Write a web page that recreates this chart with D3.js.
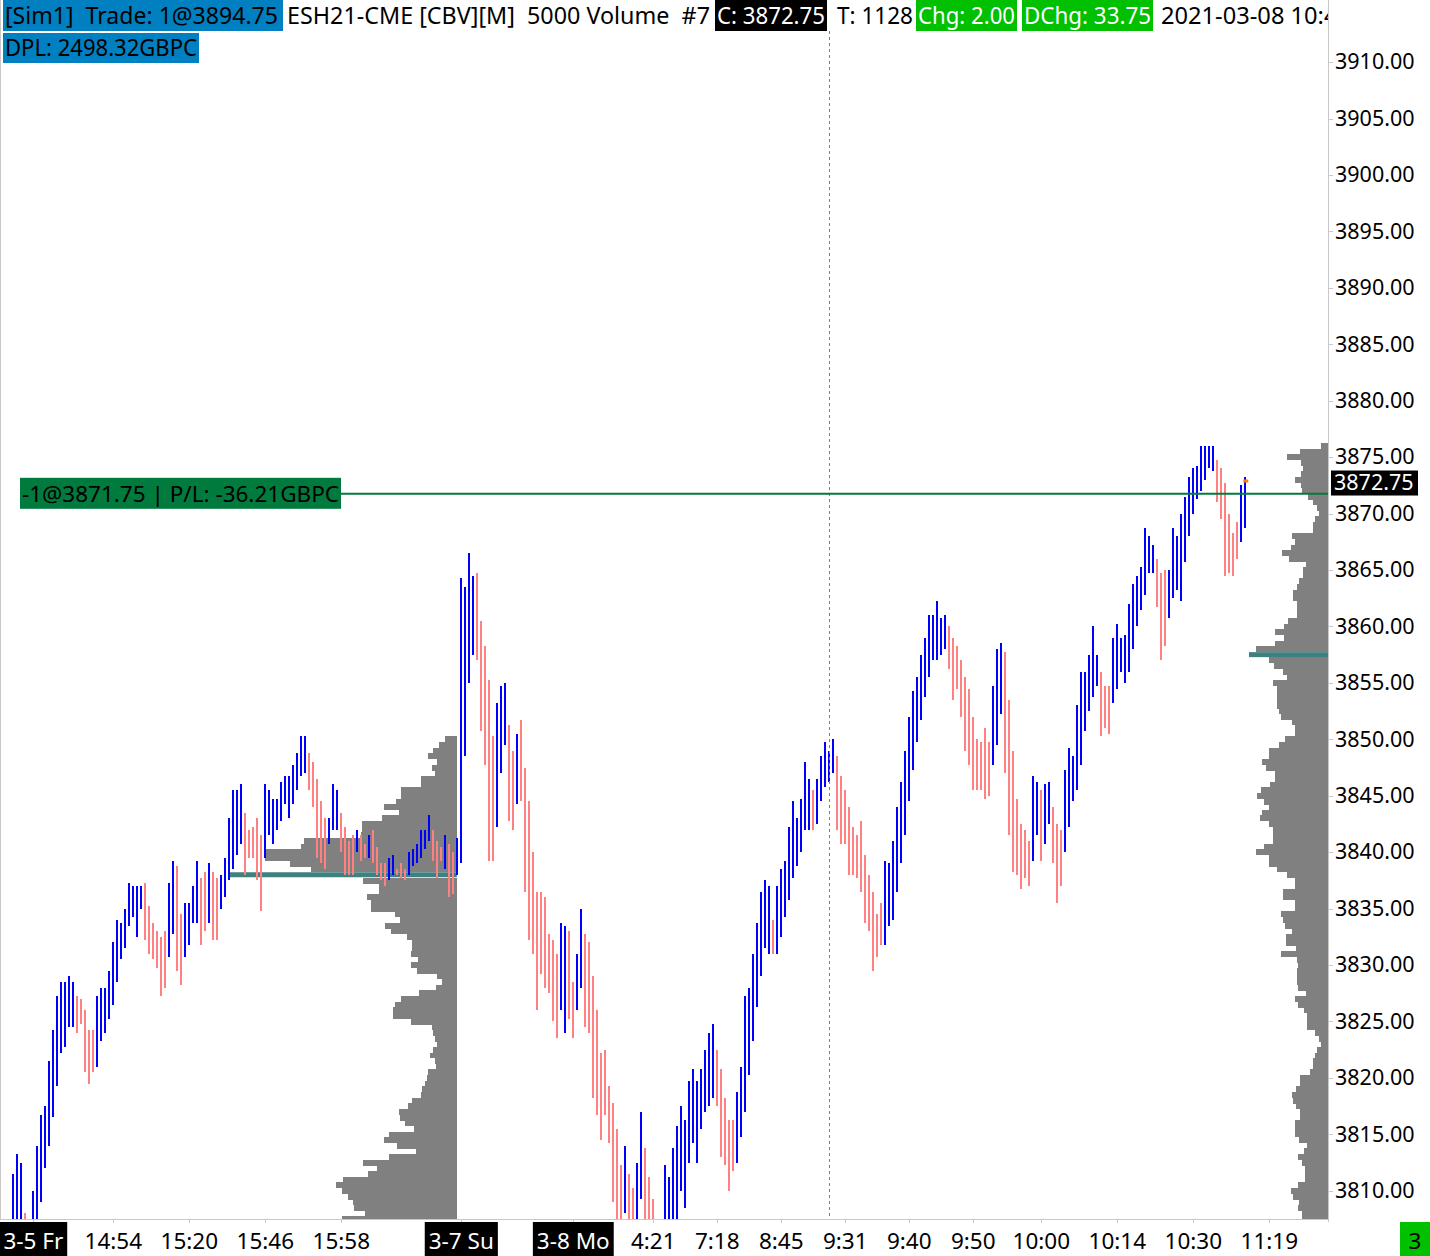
<!DOCTYPE html>
<html><head><meta charset="utf-8">
<script src="https://cdn.jsdelivr.net/npm/d3@7"></script>
<style>
body{margin:0;background:#fff;}
svg{display:block;font-family:"Noto Sans","Open Sans",sans-serif;}
text{white-space:pre;}
</style>
</head><body>
<svg id="c" width="1430" height="1256"></svg>
<script>
// ---------- DATA ----------
// bars: [high, low, up(1)/down(0)] one per 5000-volume bar, left to right
const bars = [
[3811.5,3806,1],[3813.25,3806,1],[3812.5,3806,1],[3808,3805,0],[3807,3804,0],[3810,3805,1],[3814,3806.5,1],[3816.75,3809,1],[3817.5,3812,1],[3821.5,3814,1],
[3824.25,3816.5,1],[3827.25,3819.25,1],[3828.5,3822.25,1],[3828.5,3822.75,1],[3829,3824.5,1],[3828.5,3824.5,1],[3827.25,3824,0],[3827,3824.75,0],[3826,3820.5,0],[3824.25,3819.5,0],
[3824.25,3820.5,0],[3827.25,3821,1],[3828,3823.25,1],[3828,3824,1],[3829.5,3825.25,1],[3832,3826.5,1],[3834,3828.5,1],[3833.75,3830.5,1],[3835,3831.5,1],[3837.25,3833.5,1],
[3837,3834.25,1],[3837,3832.5,1],[3837,3835,1],[3837.25,3832.25,0],[3835.25,3831,0],[3833.75,3830.5,0],[3833,3829.75,0],[3832.5,3827.25,0],[3833,3828,0],[3837.25,3830.75,1],
[3839.25,3832.75,1],[3838.75,3829.5,0],[3834.5,3828.25,0],[3835.5,3830.75,1],[3835.5,3831.75,1],[3837,3833.75,1],[3839.25,3833.75,1],[3837.75,3831.75,0],[3838.25,3833,0],[3839,3833.75,1],
[3838.25,3832.25,0],[3837.75,3832.25,0],[3838,3835,1],[3839.5,3836,1],[3843,3837.5,1],[3845.5,3838.5,1],[3845.5,3839.75,1],[3846,3840.75,1],[3843.5,3838,0],[3842,3839.5,0],
[3842.25,3839.5,0],[3843,3837.5,0],[3841.5,3834.75,0],[3846,3839.5,1],[3845.5,3841.5,1],[3844.75,3840.75,1],[3844.75,3842,1],[3846.25,3842.75,1],[3846.75,3844.25,1],[3846.75,3843,1],
[3847.75,3844.25,1],[3848.75,3845.5,1],[3850.25,3846.75,1],[3850.25,3847,1],[3848.75,3845.5,0],[3848,3844,0],[3846.5,3839.5,0],[3844.5,3839,0],[3843,3838.5,0],[3843,3840.75,1],
[3846,3842,1],[3845.5,3842,1],[3843.5,3840,0],[3842.25,3838,0],[3841,3838,0],[3841.5,3838,0],[3842,3840,1],[3841.5,3839.25,0],[3840.75,3839.5,0],[3841.5,3839.5,1],
[3842,3839,0],[3840.5,3838,0],[3839,3837.5,0],[3839,3837,0],[3839.5,3837.5,1],[3839.75,3838,1],[3838.5,3838,0],[3839,3837.75,0],[3838.5,3837.5,0],[3840,3838,1],
[3840.25,3838.75,1],[3840.75,3839,1],[3842,3839.5,1],[3842,3840.25,1],[3843.25,3841,1],[3842,3839.25,0],[3841,3837.75,0],[3840.5,3839.25,0],[3841.5,3838.5,1],[3840.75,3836,0],
[3840,3836.25,0],[3841.25,3838,1],[3864.25,3839,1],[3863.5,3848.5,1],[3866.5,3855,1],[3864.5,3857.5,1],[3864.75,3857,0],[3860.5,3850.75,0],[3858.25,3847.75,0],[3855.25,3839.25,0],
[3850.25,3839.25,0],[3853.25,3842.25,1],[3854.75,3847,1],[3855,3849.5,1],[3851.25,3842.75,0],[3849,3842,0],[3850.5,3844.25,1],[3851.75,3844.5,0],[3847.5,3836.5,0],[3844.5,3832.25,0],
[3840,3831,0],[3836.5,3826,0],[3836.5,3829.25,0],[3836,3828,0],[3832.75,3827.5,0],[3832.25,3825,0],[3831,3823.5,0],[3833.75,3826,1],[3833.5,3824,1],[3833,3825.25,0],
[3828.5,3823.5,0],[3831,3826,1],[3835,3828,1],[3832.75,3824.5,0],[3832,3824,0],[3829,3818.25,0],[3826,3816.75,0],[3822.25,3814.5,0],[3822.5,3816.75,0],[3819.25,3814.25,0],
[3817.75,3809,0],[3815.5,3807,0],[3812.25,3806.5,0],[3814,3808,1],[3811.5,3806.5,0],[3810.25,3806,0],[3812.5,3806.5,1],[3817,3809.25,1],[3813.75,3806.5,0],[3811.25,3806,0],
[3809.25,3805.5,0],[3807,3804,0],[3807,3804,1],[3812.25,3806,1],[3811.25,3806,1],[3813.75,3806.5,1],[3815.75,3806.5,1],[3817.5,3810,1],[3816.25,3808.5,1],[3819.75,3812.5,1],
[3820.75,3814.25,1],[3819.75,3812.5,1],[3820.75,3815.5,1],[3822.5,3817,1],[3824,3817.5,1],[3824.75,3818.25,1],[3822.5,3817.5,0],[3820.75,3813,0],[3818.25,3812.25,0],[3816.25,3810,0],
[3816.25,3811.75,0],[3818.75,3812.5,1],[3821,3814.75,1],[3827.25,3817,1],[3828,3820.25,1],[3831,3823.25,1],[3833.75,3826.25,1],[3836.5,3829,1],[3837.5,3831.5,1],[3837,3831,1],
[3834,3831,0],[3837,3831,1],[3838.5,3832.5,1],[3839.25,3834.25,1],[3842.25,3835.75,1],[3844.5,3837.75,1],[3843,3838.75,1],[3844.75,3840,1],[3848,3842,1],[3846.5,3842,1],
[3845.5,3842,0],[3846.5,3842.5,1],[3848.5,3844.5,1],[3849.75,3845.75,1],[3849,3846.25,1],[3850,3847,1],[3848.5,3842,0],[3846.75,3840.75,0],[3845.5,3840.75,0],[3844,3838,0],
[3842.25,3838,0],[3841.5,3837.75,0],[3842.75,3836.5,0],[3839.75,3833.75,0],[3838,3833,0],[3836.5,3829.5,0],[3834.5,3830.75,0],[3835.5,3831.75,0],[3839.25,3831.75,1],[3839,3833.5,1],
[3841,3834,1],[3844,3836.5,1],[3846.25,3839,1],[3849,3841.5,1],[3852,3844.5,1],[3854.25,3847.25,1],[3855.5,3849.75,1],[3857.5,3851.75,1],[3859,3853.75,1],[3861,3855.5,1],
[3861,3857,1],[3862.25,3857,1],[3860.75,3857.5,1],[3861,3858,1],[3860,3856.25,0],[3859,3853.5,0],[3858.25,3854.5,0],[3857,3852,0],[3855.5,3849,0],[3854.5,3847.75,0],
[3852,3845.5,0],[3850,3845.5,0],[3849.75,3845.5,0],[3851,3844.75,0],[3849.75,3845,0],[3854.75,3847.75,1],[3858,3849.5,1],[3858.5,3852.25,1],[3857.75,3847,0],[3853.5,3841.5,0],
[3849,3838.25,0],[3844.75,3838,0],[3842.5,3836.75,0],[3842,3837.75,0],[3841,3837,0],[3846.75,3839.25,1],[3846.25,3841.5,1],[3845.5,3839.25,0],[3846,3840.75,1],[3846.25,3842.5,1],
[3844,3839,0],[3842.5,3835.5,0],[3842,3837,0],[3847.25,3840,1],[3849.25,3842.25,1],[3848.5,3844.5,1],[3853,3845.5,1],[3856,3847.75,1],[3856,3850.75,1],[3857.5,3852.5,1],
[3860,3853.75,1],[3857.5,3854.75,1],[3856,3850.25,0],[3854.75,3851,0],[3854.75,3850.5,0],[3859,3853.25,1],[3860.25,3854.5,1],[3859,3856,1],[3859.25,3855,1],[3862,3856,1],
[3863.75,3858,1],[3864.5,3860,1],[3865.25,3861.5,1],[3868.75,3862.75,1],[3868,3864.75,1],[3867.25,3864.75,1],[3866,3861.75,0],[3864.75,3857,0],[3865,3858.25,0],[3865,3860.75,1],
[3868.75,3862.5,1],[3868,3863.25,1],[3870,3862.25,1],[3871.5,3865.75,1],[3873.25,3868,1],[3874,3870,1],[3874.25,3871.25,1],[3876,3872,1],[3876,3873,1],[3876,3874,1],
[3876,3873.75,1],[3874.75,3871,0],[3874,3869.5,0],[3872.75,3864.5,0],[3870,3864.75,0],[3868.25,3864.5,0],[3869.25,3866,0],[3872.5,3867.5,1],[3873.25,3868.75,1]
];

// Volume profile, Friday session (3-5): price rows every 0.5 from top price downward
const profileLeftTop = 3850.0;
const profileLeftVol = [12,18,24,29,20,25,22,36,36,56,56,61,73,58,75,95,95,96,153,156,192,192,167,146,227,94,78,78,90,86,86,62,57,72,66,50,45,45,46,39,46,40,20,15,21,38,56,62,64,64,46,25,24,22,20,24,27,22,21,29,30,32,35,36,45,49,58,57,52,43,68,73,60,41,68,94,80,89,114,121,115,109,104,103,92,115];
const profileLeftPOC = 3838.0;

// Volume profile, Monday session (3-8)
const profileRightTop = 3876.0;
const profileRightVol = [7,28,41,27,25,27,33,27,26,20,15,11,9,13,15,15,36,33,37,46,39,22,25,25,29,31,35,35,31,31,31,40,44,53,44,53,72,79,59,54,45,41,55,51,51,51,51,49,47,36,33,33,43,49,59,59,66,62,53,53,58,67,71,64,59,66,68,59,55,55,55,64,72,59,59,51,41,33,33,45,45,33,33,47,45,43,36,42,42,32,47,31,30,31,31,31,30,22,33,30,24,21,21,21,13,9,7,11,13,15,15,18,28,28,32,36,35,32,28,28,33,33,33,29,21,24,30,26,23,23,23,30,37,35,29,30,26,26];
const profileRightPOC = 3857.5;

const priceTicks = [3810,3815,3820,3825,3830,3835,3840,3845,3850,3855,3860,3865,3870,3875,3880,3885,3890,3895,3900,3905,3910];

const timeTickIndex = [5,25,44,63,82,112,140,160,176,192,208,224,240,257,276,295,314];
const timeTickLabel = ["3-5 Fr","14:54","15:20","15:46","15:58","3-7 Su","3-8 Mo","4:21","7:18","8:45","9:31","9:40","9:50","10:00","10:14","10:30","11:19"];
const timeTickIsDate = [1,0,0,0,0,1,1,0,0,0,0,0,0,0,0,0,0];

const lastPrice = 3872.75;
const tradePrice = 3871.75;
const cursorIndex = 204;
const sessionBreakIndex = 111;

const headerRow1 = [
  {t:"[Sim1]  Trade: 1@3894.75", x:3, bg:"#0080c0", fg:"#000", w:280, tl:273},
  {t:"ESH21-CME [CBV][M]  5000 Volume  #7", x:285, bg:null, fg:"#000", tl:423},
  {t:"C: 3872.75", x:715, bg:"#000", fg:"#fff", w:112, tl:108},
  {t:"T: 1128", x:829, bg:null, fg:"#000", tl:76, dx:6},
  {t:"Chg: 2.00", x:916, bg:"#00c000", fg:"#fff", w:101, tl:97},
  {t:"DChg: 33.75", x:1022, bg:"#00c000", fg:"#fff", w:131, tl:127},
  {t:"2021-03-08 10:42", x:1159, bg:null, fg:"#000", tl:190}
];
const headerRow2 = [{t:"DPL: 2498.32GBPC", x:3, bg:"#0080c0", fg:"#000", w:196, tl:192}];

// ---------- DRAW ----------
const PR = 1328, PB = 1219;
const x = d3.scaleLinear().domain([0, bars.length - 1]).range([13.3, 1245.3]);
const y = d3.scaleLinear().domain([3807.5, 3915.5]).range([PB, 0]);
const vol = d3.scaleLinear().domain([0, 100]).range([0, 100]);

const svg = d3.select("#c");
svg.append("rect").attr("width",1430).attr("height",1256).attr("fill","#fff");
const defs = svg.append("defs");
defs.append("clipPath").attr("id","pc")
  .append("rect").attr("x",0).attr("y",0).attr("width",PR).attr("height",PB);
defs.append("clipPath").attr("id","hc")
  .append("rect").attr("x",0).attr("y",0).attr("width",PR).attr("height",70);
const g = svg.append("g").attr("clip-path","url(#pc)");

function profile(top, vols, poc, rightEdge){
  const rows = vols.map((v,k)=>({p: top - 0.5*k, v}));
  g.append("g").selectAll("rect").data(rows.filter(d=>d.p!==poc)).join("rect")
    .attr("x", d=>rightEdge - vol(d.v))
    .attr("y", d=>y(d.p+0.25))
    .attr("width", d=>vol(d.v))
    .attr("height", d=>y(d.p-0.25)-y(d.p+0.25)+0.3)
    .attr("fill","#808080").attr("shape-rendering","crispEdges");
  const pr = rows.find(d=>d.p===poc);
  g.append("rect").attr("x", rightEdge - vol(pr.v)).attr("y", y(poc)-2.5)
    .attr("width", vol(pr.v)).attr("height",5).attr("fill","#408080");
}
profile(profileLeftTop, profileLeftVol, profileLeftPOC, x(sessionBreakIndex) - 0.5);
profile(profileRightTop, profileRightVol, profileRightPOC, PR);

// cursor dashed line
svg.append("line").attr("x1", Math.round(x(cursorIndex))+0.5).attr("x2", Math.round(x(cursorIndex))+0.5)
  .attr("y1",31).attr("y2",PB).attr("stroke","#808080").attr("stroke-dasharray","3,3");

// bars
g.append("g").selectAll("rect").data(bars).join("rect")
  .attr("x",(d,i)=>Math.round(x(i)-1))
  .attr("y",d=>y(d[0]))
  .attr("width",2)
  .attr("height",d=>Math.max(1, y(d[1])-y(d[0])))
  .attr("fill",d=>d[2]?"#0000ff":"#ff8080")
  .attr("shape-rendering","crispEdges");

// last-price marker
g.append("rect").attr("x", x(bars.length-1)-2).attr("y", y(lastPrice)-3).attr("width",5).attr("height",3).attr("fill","#ff8000");

// trade line and label
svg.append("line").attr("x1",20).attr("x2",PR).attr("y1",y(tradePrice)).attr("y2",y(tradePrice))
  .attr("stroke","#007a3d").attr("stroke-width",2);
svg.append("rect").attr("x",20).attr("y",y(tradePrice)-16).attr("width",321).attr("height",31).attr("fill","#007a3d");
svg.append("text").attr("x",22).attr("y",y(tradePrice)+8).attr("font-size",22.5).attr("fill","#000")
  .attr("textLength",317).attr("lengthAdjust","spacingAndGlyphs")
  .text("-1@" + tradePrice.toFixed(2) + " | P/L: -36.21GBPC");

// borders
svg.append("line").attr("x1",0.5).attr("x2",0.5).attr("y1",0).attr("y2",PB).attr("stroke","#c8c8c8");
svg.append("line").attr("x1",PR+0.5).attr("x2",PR+0.5).attr("y1",0).attr("y2",PB+3).attr("stroke","#c8c8c8");
svg.append("line").attr("x1",0).attr("x2",PR).attr("y1",PB+0.5).attr("y2",PB+0.5).attr("stroke","#c8c8c8");

// right price axis
const ya = svg.append("g");
priceTicks.forEach(p=>{
  ya.append("line").attr("x1",PR+1).attr("x2",PR+5).attr("y1",Math.round(y(p))+0.5).attr("y2",Math.round(y(p))+0.5).attr("stroke","#c8c8c8");
  ya.append("text").attr("x",1335).attr("y",y(p)).attr("dy","0.34em").attr("font-size",21.5).attr("fill","#000").text(p.toFixed(2));
});
ya.append("rect").attr("x",1331).attr("y",y(lastPrice)-12).attr("width",87).attr("height",25).attr("fill","#000");
ya.append("text").attr("x",1334).attr("y",y(lastPrice)+0.5).attr("dy","0.34em").attr("font-size",21.5).attr("fill","#fff").text(lastPrice.toFixed(2));

// time axis
const xa = svg.append("g");
timeTickIndex.forEach((ti,k)=>{
  const cx = x(ti);
  xa.append("line").attr("x1",Math.round(cx)+0.5).attr("x2",Math.round(cx)+0.5).attr("y1",PB).attr("y2",PB+4).attr("stroke","#c8c8c8");
  const t = xa.append("text").attr("x",cx).attr("y",1249).attr("text-anchor","middle").attr("font-size",22.5)
    .attr("fill", timeTickIsDate[k] ? "#fff" : "#000").text(timeTickLabel[k]);
  if (timeTickIsDate[k]) {
    const w = t.node().getComputedTextLength() + 8;
    xa.insert("rect", () => t.node()).attr("x",cx-w/2).attr("y",1222).attr("width",w).attr("height",34).attr("fill","#000");
  }
});
svg.append("rect").attr("x",1400).attr("y",1222).attr("width",30).attr("height",34).attr("fill","#00c000");
svg.append("text").attr("x",1415).attr("y",1249).attr("text-anchor","middle").attr("font-size",22.5).text("3");

// header
const hg = svg.append("g").attr("clip-path","url(#hc)");
function headerRow(items, top, h){
  items.forEach(it=>{
    if (it.bg) hg.append("rect").attr("x",it.x).attr("y",top).attr("width",it.w).attr("height",h).attr("fill",it.bg);
    hg.append("text").attr("x",it.x+2+(it.dx||0)).attr("y",top+h-7).attr("font-size",23).attr("fill",it.fg)
      .attr("textLength",it.tl).attr("lengthAdjust","spacingAndGlyphs").text(it.t);
  });
}
headerRow(headerRow1, 0, 31);
headerRow(headerRow2, 33, 30);
</script>
</body></html>
